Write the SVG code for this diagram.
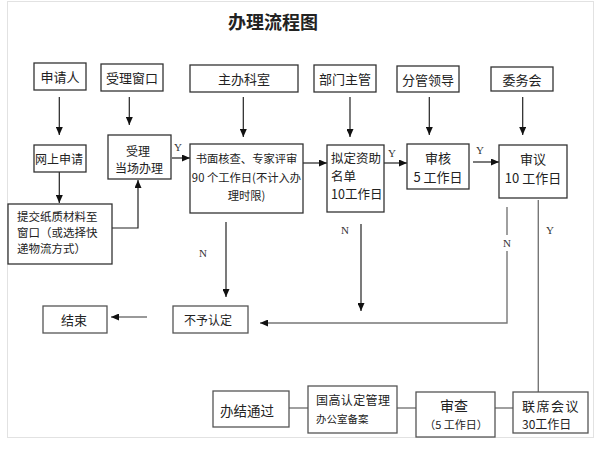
<svg xmlns="http://www.w3.org/2000/svg" width="603" height="471" viewBox="0 0 603 471">
<defs>
<marker id="ah" markerUnits="userSpaceOnUse" markerWidth="8" markerHeight="7" refX="8" refY="3.5" orient="auto">
<path d="M0,0 L8,3.5 L0,7 z" fill="#111"/>
</marker>
<style>
.box{fill:#fff;stroke:#333;stroke-width:1.3}
.box2{fill:#fff;stroke:#555;stroke-width:1.3}
.t{font-family:"Noto Sans CJK SC","Liberation Sans",sans-serif;font-size:13px;fill:#222;text-anchor:middle;dominant-baseline:central}
.l{text-anchor:start}
.yn{font-family:"Liberation Serif",serif;font-size:11px;fill:#333;dominant-baseline:central}
.c{fill:none;stroke:#222;stroke-width:1.2}
.g{fill:none;stroke:#777;stroke-width:1.4}
.a{marker-end:url(#ah)}
</style>
</defs>
<rect x="0" y="0" width="603" height="471" fill="#fff"/>
<rect x="7.5" y="1.5" width="586" height="436" fill="none" stroke="#e2e2e2" stroke-width="1"/>
<text class="t" x="273" y="21" style="font-size:18px;font-weight:bold">办理流程图</text>

<g id="connectors">
<path class="c a" d="M59.3,97 V135"/>
<path class="c a" d="M129.3,97 V125"/>
<path class="c a" d="M243.3,97 V137"/>
<path class="c a" d="M350,97 V137"/>
<path class="c a" d="M429.3,97 V135"/>
<path class="c a" d="M522.7,97 V135"/>
<path class="c a" d="M59.3,172 V203"/>
<path class="c a" d="M112,228 H138 V180"/>
<path class="c a" d="M172,158 H190"/>
<path class="c a" d="M303,163 H327"/>
<path class="c a" d="M384,163 H407"/>
<path class="c a" d="M473,162 H499"/>
<path class="c a" d="M226,222 V297"/>
<path class="c a" d="M361,224 V311"/>
<path class="g" d="M507,207 V235"/>
<path class="g a" d="M507,251 V323 H260"/>
<path class="g a" d="M147,317 H111"/>
<path class="g" d="M538.3,200 V392"/>
<path class="g" d="M289,408 H308"/>
<path class="g" d="M397,408 H416"/>
<path class="g" d="M495,408 H513"/>
<text class="yn" x="174" y="147">Y</text>
<text class="yn" x="388" y="153">Y</text>
<text class="yn" x="476" y="150">Y</text>
<text class="yn" x="546" y="230">Y</text>
<text class="yn" x="199" y="253">N</text>
<text class="yn" x="341" y="230">N</text>
<text class="yn" x="503" y="243">N</text>
</g>

<g id="n-shenqingren"><rect class="box" x="34" y="63" width="52" height="27"/><text class="t" x="60" y="76.5">申请人</text></g>
<g id="n-shoulichuangkou"><rect class="box" x="101" y="64" width="62" height="27"/><text class="t" x="132" y="77.5">受理窗口</text></g>
<g id="n-zhubankeshi"><rect class="box" x="190" y="65" width="108" height="27"/><text class="t" x="244" y="78.5">主办科室</text></g>
<g id="n-bumenzhuguan"><rect class="box" x="314" y="65" width="62" height="27"/><text class="t" x="345" y="78.5">部门主管</text></g>
<g id="n-fenguanlingdao"><rect class="box" x="397" y="66" width="62" height="26"/><text class="t" x="428" y="79">分管领导</text></g>
<g id="n-weiwuhui"><rect class="box" x="491" y="67" width="62" height="24"/><text class="t" x="522" y="79">委务会</text></g>

<g id="n-wangshang"><rect class="box" x="34" y="145" width="52" height="27"/><text class="t" x="59" y="158.5" style="font-size:12px">网上申请</text></g>
<g id="n-shouli"><rect class="box" x="108" y="135" width="63" height="44"/><text class="t" x="138" y="150" style="font-size:12px">受理</text><text class="t" x="139" y="167" style="font-size:12px">当场办理</text></g>
<g id="n-tijiao"><rect class="box" x="8" y="204" width="104" height="60"/>
<text class="t l" x="17" y="216" style="font-size:11.5px">提交纸质材料至</text>
<text class="t l" x="17" y="232" style="font-size:11.5px">窗口（或选择快</text>
<text class="t l" x="17" y="248" style="font-size:11.5px">递物流方式）</text></g>
<g id="n-shumian"><rect class="box" x="190" y="144" width="113" height="69"/>
<text class="t" x="246.5" y="158" style="font-size:11.3px">书面核查、专家评审</text>
<text class="t" x="246.5" y="177" style="font-size:11.3px">90 个工作日(不计入办</text>
<text class="t" x="246.5" y="195" style="font-size:11.3px">理时限)</text></g>
<g id="n-niding"><rect class="box" x="327" y="145" width="57" height="67"/>
<text class="t l" x="331" y="157" style="font-size:12.5px">拟定资助</text>
<text class="t l" x="331" y="175" style="font-size:12.5px">名单</text>
<text class="t l" x="331" y="193" style="font-size:12.5px">10工作日</text></g>
<g id="n-shenhe"><rect class="box" x="407" y="144" width="62" height="45"/><text class="t" x="438" y="157">审核</text><text class="t" x="438" y="176">5 工作日</text></g>
<g id="n-shenyi"><rect class="box" x="499" y="145" width="68" height="53"/><text class="t" x="533" y="158">审议</text><text class="t" x="533" y="177">10 工作日</text></g>

<g id="n-buyu"><rect class="box2" x="173" y="306" width="75" height="27"/><text class="t" x="208" y="319.5" style="font-size:12px">不予认定</text></g>
<g id="n-jieshu"><rect class="box2" x="43" y="306" width="64" height="27"/><text class="t" x="74" y="319.5">结束</text></g>

<g id="n-banjie"><rect class="box2" x="213" y="391" width="76" height="36"/><text class="t" x="247" y="410" style="font-size:13.5px">办结通过</text></g>
<g id="n-guogao"><rect class="box2" x="308" y="386" width="89" height="47"/>
<text class="t l" x="316" y="399" style="font-size:12px;letter-spacing:0.4px">国高认定管理</text>
<text class="t l" x="316" y="418" style="font-size:10.5px">办公室备案</text></g>
<g id="n-shencha"><rect class="box2" x="416" y="392" width="79" height="45"/>
<text class="t" x="454" y="405" style="font-size:14px">审查</text>
<text class="t" x="456" y="424" style="font-size:11px">（5 工作日）</text></g>
<g id="n-lianxi"><rect class="box2" x="513" y="392" width="75" height="41"/>
<text class="t" x="551" y="405" style="letter-spacing:1.5px">联席会议</text>
<text class="t l" x="522" y="423" style="font-size:12px">30工作日</text></g>
</svg>
